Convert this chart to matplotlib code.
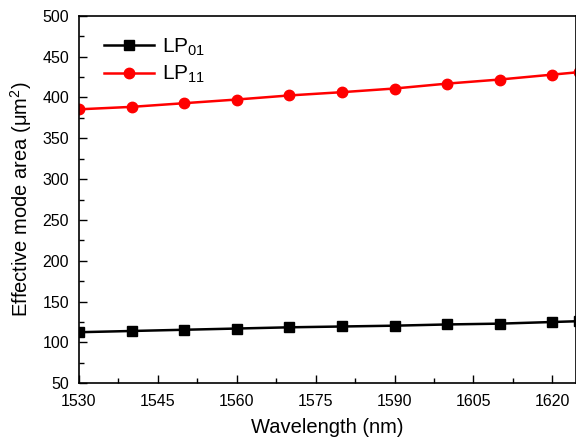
import numpy as np
import matplotlib
matplotlib.use("Agg")
import matplotlib.pyplot as plt
from matplotlib.ticker import MultipleLocator

plt.rcParams['font.family'] = ['Liberation Sans', 'DejaVu Sans']
plt.rcParams['mathtext.fontset'] = 'custom'
plt.rcParams['mathtext.rm'] = 'Liberation Sans'
plt.rcParams['mathtext.it'] = 'Liberation Sans:italic'

# data
wavelength = [1530, 1540, 1550, 1560, 1570, 1580, 1590, 1600, 1610, 1620, 1625]
lp01 = [112.5, 114, 115.5, 117, 118.5, 119.5, 120.5, 122, 123, 125, 126]
lp11 = [385.5, 388.5, 393, 397.5, 402.5, 406.5, 411, 417, 422, 428, 431]

fig = plt.figure(figsize=(5.76, 4.4), dpi=100)
ax = fig.add_axes([0.137, 0.129, 0.863, 0.835])

ax.plot(wavelength, lp01, color='black', lw=1.8, marker='s', ms=7.5,
        label=r'LP$_{\mathregular{01}}$')
ax.plot(wavelength, lp11, color='red', lw=1.8, marker='o', ms=7.5,
        label=r'LP$_{\mathregular{11}}$')

ax.set_xlim(1530, 1624.5)
ax.set_ylim(50, 500)
ax.xaxis.set_major_locator(MultipleLocator(15))
ax.xaxis.set_minor_locator(MultipleLocator(7.5))
ax.yaxis.set_major_locator(MultipleLocator(50))
ax.yaxis.set_minor_locator(MultipleLocator(25))
ax.tick_params(which='both', direction='in', labelsize=11.5, top=False, right=False)
ax.tick_params(which='major', length=6, width=1)
ax.tick_params(which='minor', length=3.5, width=1)
ax.tick_params(axis='x', pad=8)
ax.tick_params(axis='y', pad=7)
for s in ax.spines.values():
    s.set_linewidth(1.2)

ax.set_xlabel('Wavelength (nm)', fontsize=14.5, labelpad=6)
ax.set_ylabel(r'Effective mode area (μm$^{\mathregular{2}}$)', fontsize=14.5, labelpad=6)

ax.legend(loc='upper left', bbox_to_anchor=(0.012, 0.995), frameon=False,
          fontsize=15, handlelength=2.4, handletextpad=0.4, labelspacing=0.3)

fig.savefig('out.png', dpi=100)
